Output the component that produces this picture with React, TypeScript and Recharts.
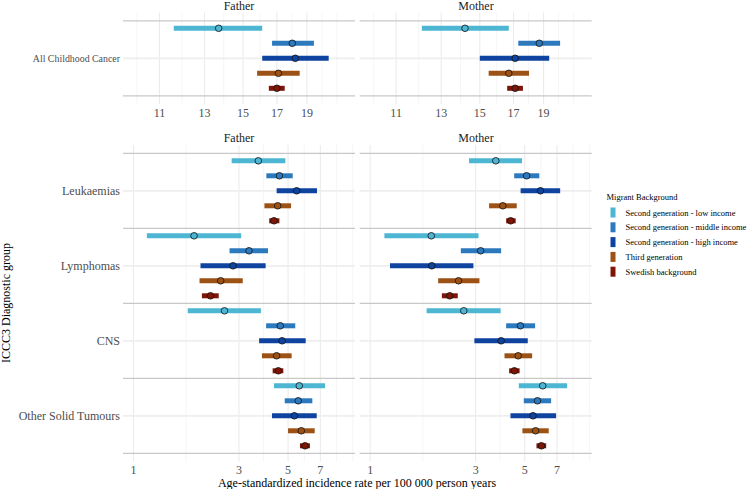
import React from 'react';
import { ScatterChart, Scatter, XAxis, YAxis, ErrorBar, ReferenceLine } from 'recharts';

const FONT = '"Liberation Serif", "Times New Roman", serif';
const W = 747;
const H = 489;

// Migrant background groups, drawn top to bottom inside each diagnostic row
const groups = [
  'Second generation - low income',
  'Second generation - middle income',
  'Second generation - high income',
  'Third generation',
  'Swedish background',
];
const groupColors = ['#4DB6D3', '#2C79BE', '#0E43A0', '#9C5214', '#7E1608'];

const overallCategory = ['All Childhood Cancer'];
const diagnosticGroups = ['Leukaemias', 'Lymphomas', 'CNS', 'Other Solid Tumours'];

// All childhood cancer (per 100 000), one entry per migrant group
const fatherAllEst = [[13.7, 18.0, 18.2, 17.1, 17.0]];
const fatherAllLow = [[11.6, 16.7, 16.1, 15.8, 16.5]];
const fatherAllHigh = [[16.1, 19.5, 20.6, 18.5, 17.5]];

const motherAllEst = [[14.2, 18.7, 17.1, 16.7, 17.1]];
const motherAllLow = [[12.1, 17.3, 15.0, 15.5, 16.6]];
const motherAllHigh = [[16.7, 20.2, 19.4, 18.0, 17.6]];

// Diagnostic groups: rows are Leukaemias, Lymphomas, CNS, Other Solid Tumours
const fatherEst = [
  [3.67, 4.57, 5.47, 4.49, 4.32],
  [1.88, 3.33, 2.82, 2.48, 2.23],
  [2.58, 4.61, 4.7, 4.44, 4.52],
  [5.62, 5.56, 5.34, 5.74, 5.97],
];
const fatherLow = [
  [2.78, 3.99, 4.44, 3.91, 4.11],
  [1.15, 2.72, 2.01, 1.99, 2.04],
  [1.76, 3.98, 3.7, 3.81, 4.26],
  [4.32, 4.83, 4.23, 5.0, 5.66],
];
const fatherHigh = [
  [4.86, 5.25, 6.76, 5.16, 4.57],
  [3.07, 4.06, 3.96, 3.12, 2.43],
  [3.77, 5.39, 6.01, 5.19, 4.76],
  [7.35, 6.44, 6.74, 6.6, 6.28],
];

const motherEst = [
  [3.7, 5.1, 5.89, 3.98, 4.32],
  [1.89, 3.16, 1.9, 2.51, 2.29],
  [2.65, 4.78, 3.91, 4.67, 4.49],
  [6.03, 5.71, 5.45, 5.6, 5.95],
];
const motherLow = [
  [2.8, 4.48, 4.79, 3.45, 4.12],
  [1.16, 2.57, 1.23, 2.03, 2.11],
  [1.8, 4.12, 2.96, 4.05, 4.25],
  [4.7, 4.95, 4.31, 4.88, 5.65],
];
const motherHigh = [
  [4.86, 5.82, 7.23, 4.6, 4.55],
  [3.09, 3.91, 2.93, 3.12, 2.49],
  [3.89, 5.57, 5.16, 5.4, 4.74],
  [7.77, 6.58, 6.93, 6.42, 6.25],
];

// Axis ticks and grid breaks (log scale)
const overallTicks = [11, 13, 15, 17, 19];
const overallMinor = [10.12, 11.96, 13.96, 15.97, 17.97, 20.09, 21.24];
const overallDomain: [number, number] = [9.61, 22.71];

const groupTicks = [1, 3, 5, 7];
const groupMinor = [1.73, 3.87, 5.92, 8.28, 9.8];
const groupDomain: [number, number] = [0.897, 10.04];

type Row = { pos: number; est: number; err: [number, number] };

function buildRows(est: number[][], low: number[][], high: number[][], g: number): Row[] {
  return est.map((vals, c) => ({
    pos: c + 1 + (g - 2) * 0.2,
    est: vals[g],
    err: [vals[g] - low[c][g], high[c][g] - vals[g]],
  }));
}

function XTick(props: any) {
  const { x, y, payload } = props;
  return (
    <text x={x} y={y} dy={8.6} textAnchor="middle" fontFamily={FONT} fontSize={12} fill="#4D4D4D">
      {payload.value}
    </text>
  );
}

function makeYTick(cats: string[], size: number) {
  return (props: any) => {
    const { x, y, payload } = props;
    return (
      <text x={x} y={y} dy={size * 0.35} textAnchor="end" fontFamily={FONT} fontSize={size} fill="#4D4D4D">
        {cats[Math.round(payload.value) - 1] ?? ''}
      </text>
    );
  };
}

type PanelProps = {
  left: number;
  right: number;
  top: number;
  bottom: number;
  domain: [number, number];
  ticks: number[];
  minor: number[];
  cats: string[];
  est: number[][];
  low: number[][];
  high: number[][];
  showY: boolean;
  labelSize: number;
};

function Panel({ left, right, top, bottom, domain, ticks, minor, cats, est, low, high, showY, labelSize }: PanelProps) {
  const yDomain: [number, number] = [0.39, cats.length + 0.61];
  return (
    <div style={{ position: 'absolute', left: 0, top: 0 }}>
      <ScatterChart
        width={W}
        height={H}
        margin={{ left: showY ? 0 : left, right: W - right, top, bottom: H - bottom - 20 }}
      >
        <XAxis
          type="number"
          dataKey="est"
          scale="log"
          domain={domain}
          allowDataOverflow
          ticks={ticks}
          interval={0}
          axisLine={false}
          tickLine={false}
          tickSize={0}
          tickMargin={4}
          height={20}
          tick={<XTick />}
        />
        <YAxis
          type="number"
          dataKey="pos"
          domain={yDomain}
          reversed
          allowDataOverflow
          ticks={cats.map((_, i) => i + 1)}
          interval={0}
          hide={!showY}
          width={left}
          axisLine={false}
          tickLine={false}
          tickSize={0}
          tickMargin={3}
          tick={makeYTick(cats, labelSize)}
        />
        {minor.map((v) => (
          <ReferenceLine key={'mn' + v} x={v} stroke="#F1F1F1" strokeWidth={0.7} />
        ))}
        {ticks.map((v) => (
          <ReferenceLine key={'mj' + v} x={v} stroke="#EBEBEB" strokeWidth={1.1} />
        ))}
        {cats.map((c, i) => (
          <ReferenceLine key={'cy' + c} y={i + 1} stroke="#EEEEEE" strokeWidth={1.8} />
        ))}
        {[...cats.map((_, i) => i + 0.5), cats.length + 0.5].map((v) => (
          <ReferenceLine key={'sep' + v} y={v} stroke="#C8C8C8" strokeWidth={1.3} />
        ))}
        {groups.map((name, g) => (
          <Scatter
            key={name}
            name={name}
            data={buildRows(est, low, high, g)}
            fill={groupColors[g]}
            isAnimationActive={false}
            shape={(p: any) => (
              <circle cx={p.cx} cy={p.cy} r={3.3} fill={groupColors[g]} stroke="#111111" strokeWidth={0.8} />
            )}
          >
            <ErrorBar
              dataKey="err"
              direction="x"
              width={0}
              stroke={groupColors[g]}
              strokeWidth={5}
              isAnimationActive={false}
            />
          </Scatter>
        ))}
      </ScatterChart>
    </div>
  );
}

function Overlay() {
  return (
    <svg width={W} height={H} style={{ position: 'absolute', left: 0, top: 0, pointerEvents: 'none' }}>
      <g fontFamily={FONT} fill="#1A1A1A" fontSize={12} textAnchor="middle">
        <text x={239} y={9.5}>Father</text>
        <text x={476} y={9.5}>Mother</text>
        <text x={239} y={141.5}>Father</text>
        <text x={476} y={141.5}>Mother</text>
      </g>
      <text x={357} y={486.8} fontFamily={FONT} fontSize={12} textAnchor="middle" fill="#000">
        Age-standardized incidence rate per 100 000 person years
      </text>
      <text
        transform="translate(9.5,303) rotate(-90)"
        fontFamily={FONT}
        fontSize={12}
        textAnchor="middle"
        fill="#000"
      >
        ICCC3 Diagnostic group
      </text>
      <g fontFamily={FONT} fontSize={8.5} fill="#000">
        <text x={606.5} y={200}>Migrant Background</text>
        {groups.map((name, g) => (
          <g key={name}>
            <rect x={610.5} y={207.5 + g * 14.8} width={5} height={10} fill={groupColors[g]} />
            <text x={625.5} y={215.5 + g * 14.8}>{name}</text>
          </g>
        ))}
      </g>
    </svg>
  );
}

export default function App() {
  return (
    <div style={{ position: 'absolute', left: 0, top: 0, width: W, height: H, background: '#fff', overflow: 'hidden' }}>
      <Panel
        left={123}
        right={355}
        top={12.55}
        bottom={104.05}
        domain={overallDomain}
        ticks={overallTicks}
        minor={overallMinor}
        cats={overallCategory}
        est={fatherAllEst}
        low={fatherAllLow}
        high={fatherAllHigh}
        showY
        labelSize={9.9}
      />
      <Panel
        left={359.7}
        right={591.7}
        top={12.55}
        bottom={104.05}
        domain={overallDomain}
        ticks={overallTicks}
        minor={overallMinor}
        cats={overallCategory}
        est={motherAllEst}
        low={motherAllLow}
        high={motherAllHigh}
        showY={false}
        labelSize={9.9}
      />
      <Panel
        left={123}
        right={355}
        top={145.05}
        bottom={461.55}
        domain={groupDomain}
        ticks={groupTicks}
        minor={groupMinor}
        cats={diagnosticGroups}
        est={fatherEst}
        low={fatherLow}
        high={fatherHigh}
        showY
        labelSize={12}
      />
      <Panel
        left={359.7}
        right={591.7}
        top={145.05}
        bottom={461.55}
        domain={groupDomain}
        ticks={groupTicks}
        minor={groupMinor}
        cats={diagnosticGroups}
        est={motherEst}
        low={motherLow}
        high={motherHigh}
        showY={false}
        labelSize={12}
      />
      <Overlay />
    </div>
  );
}
